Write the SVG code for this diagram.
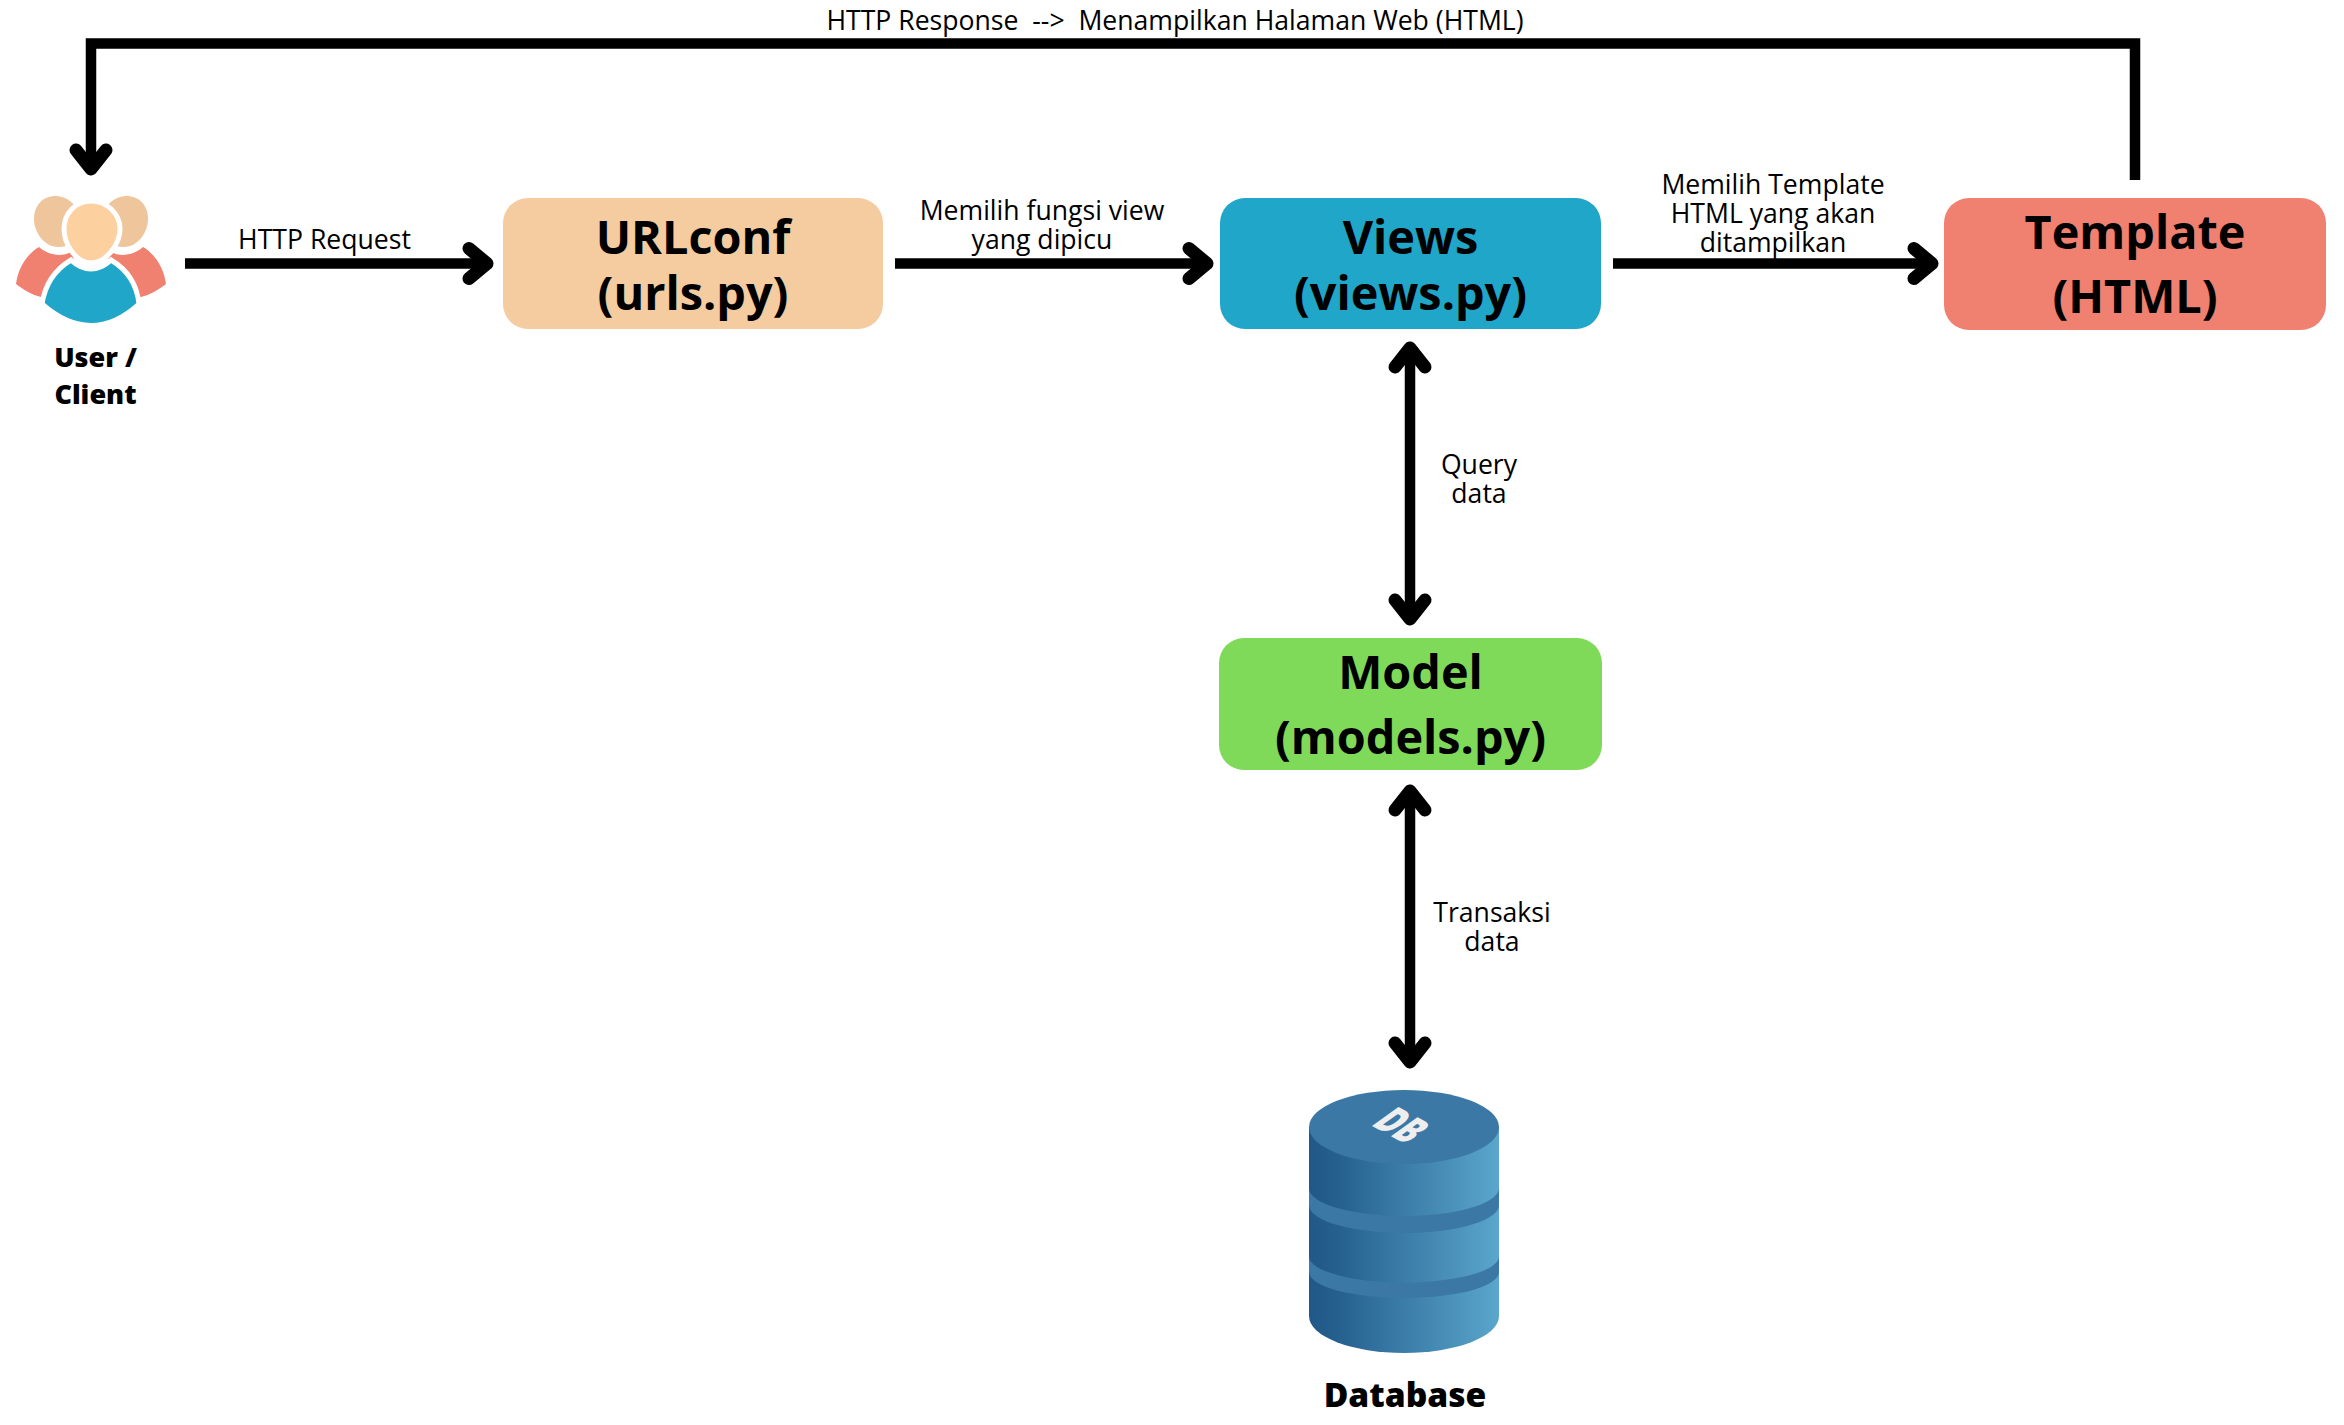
<svg xmlns="http://www.w3.org/2000/svg" width="2344" height="1425" viewBox="0 0 2344 1425">
<style>
text{font-family:"Open Sans","Noto Sans",sans-serif;text-anchor:middle;fill:#000}
.t{font-size:46.800px;font-weight:700}
.l{font-size:26.600px}
.c{font-weight:800}
.line{fill:none;stroke:#000;stroke-width:10.500}
.head{fill:none;stroke:#000;stroke-width:13;stroke-linecap:round;stroke-linejoin:round}
.gap{stroke:#fff;stroke-width:5}
</style>
<defs>
<linearGradient id="dbg" x1="0" x2="1" y1="0" y2="0"><stop offset="0" stop-color="#215888"/><stop offset="0.15" stop-color="#25608f"/><stop offset="1" stop-color="#5aa6cc"/></linearGradient>
</defs>
<rect width="2344" height="1425" fill="#fff"/>
<g id="connectors">
<path class="line" d="M2135 180V43.500H91V165"/>
<path class="head" d="M76 150L91 169L106 150"/>
<path class="line" d="M185 263.500H485"/><path class="head" d="M469 248.500L487 263.500L469 278.500"/>
<path class="line" d="M895 263.500H1205"/><path class="head" d="M1189 248.500L1207 263.500L1189 278.500"/>
<path class="line" d="M1613 263.500H1930"/><path class="head" d="M1914 248.500L1932 263.500L1914 278.500"/>
<path class="line" d="M1410 350V618"/><path class="head" d="M1395 367L1410 348L1425 367"/><path class="head" d="M1395 600L1410 619L1425 600"/>
<path class="line" d="M1410 793V1060"/><path class="head" d="M1395 810L1410 791L1425 810"/><path class="head" d="M1395 1043L1410 1062L1425 1043"/>
</g>
<g id="user">
<path fill="#f08070" d="M16 284C18 268 27 254 39 247C47 254 60 258 71 252L75 262L50 300L41 297C32 295 24 290 16 284Z"/>
<path fill="#f08070" d="M166 284C164 268 155 254 143 247C135 254 122 258 111 252L107 262L132 300L141 297C150 295 158 290 166 284Z"/>
<path fill="#efc59c" d="M56 196C42 196 34 206 34 219C34 232 44 247 58 247C70 247 78 240 80 225C82 210 70 196 56 196Z"/>
<path fill="#efc59c" d="M126 196C140 196 148 206 148 219C148 232 138 247 124 247C112 247 104 240 102 225C100 210 112 196 126 196Z"/>
<path class="gap" fill="#1fa6c8" d="M71 260C76 265 84 269 91 269C98 269 106 265 111 260C126 269 137 284 139 304C107 333 75 333 42 304C45 284 56 269 71 260Z"/>
<path class="gap" fill="#fdd09f" d="M91 201C106 201 120 213 120 229C120 244 106 263 91 263C76 263 64 244 64 229C64 213 76 201 91 201Z"/>
<text class="c" x="95.500" y="367" style="font-size:27px">User /</text>
<text class="c" x="95.500" y="403.500" style="font-size:27px">Client</text>
</g>
<g id="urlconf"><rect x="503" y="198" width="380" height="131" rx="25" fill="#f5cba0"/><text class="t" x="693" y="254">URLconf</text><text class="t" x="693" y="310">(urls.py)</text></g>
<g id="views"><rect x="1220" y="198" width="381" height="131" rx="25" fill="#1fa6c8"/><text class="t" x="1410.500" y="254">Views</text><text class="t" x="1410.500" y="310">(views.py)</text></g>
<g id="template"><rect x="1944" y="198" width="382" height="132" rx="25" fill="#f08070"/><text class="t" x="2135" y="248.500">Template</text><text class="t" x="2135" y="313">(HTML)</text></g>
<g id="model"><rect x="1219" y="638" width="383" height="132" rx="25" fill="#80da5a"/><text class="t" x="1410.500" y="689">Model</text><text class="t" x="1410.500" y="754">(models.py)</text></g>
<g id="database">
<path fill="url(#dbg)" d="M1309 1127V1316A95 37 0 0 0 1499 1316V1127Z"/>
<path fill="#3b78a5" d="M1309 1189A95 28 0 0 0 1499 1187V1204A95 28 0 0 1 1309 1206Z"/>
<path fill="#3b78a5" d="M1309 1257A95 26 0 0 0 1499 1256V1272A95 26 0 0 1 1309 1272Z"/>
<ellipse cx="1404" cy="1127" rx="95" ry="37" fill="#3b78a5"/>
<text transform="matrix(1.300 .690 -1.850 1.330 1370 1125)" style="font-size:20px;font-weight:800;fill:#eee;text-anchor:start">DB</text>
<text class="c" x="1405" y="1407" style="font-size:33.600px">Database</text>
</g>
<g id="labels">
<text class="l" x="1175" y="30" xml:space="preserve">HTTP Response  --&gt;  Menampilkan Halaman Web (HTML)</text>
<text class="l" x="324.500" y="248.500">HTTP Request</text>
<text class="l" x="1042" y="220">Memilih fungsi view</text><text class="l" x="1042" y="249">yang dipicu</text>
<text class="l" x="1773" y="194">Memilih Template</text><text class="l" x="1773" y="223">HTML yang akan</text><text class="l" x="1773" y="252">ditampilkan</text>
<text class="l" x="1479" y="473.500">Query</text><text class="l" x="1479" y="502.500">data</text>
<text class="l" x="1492" y="921.500">Transaksi</text><text class="l" x="1492" y="950.500">data</text>
</g>
</svg>
